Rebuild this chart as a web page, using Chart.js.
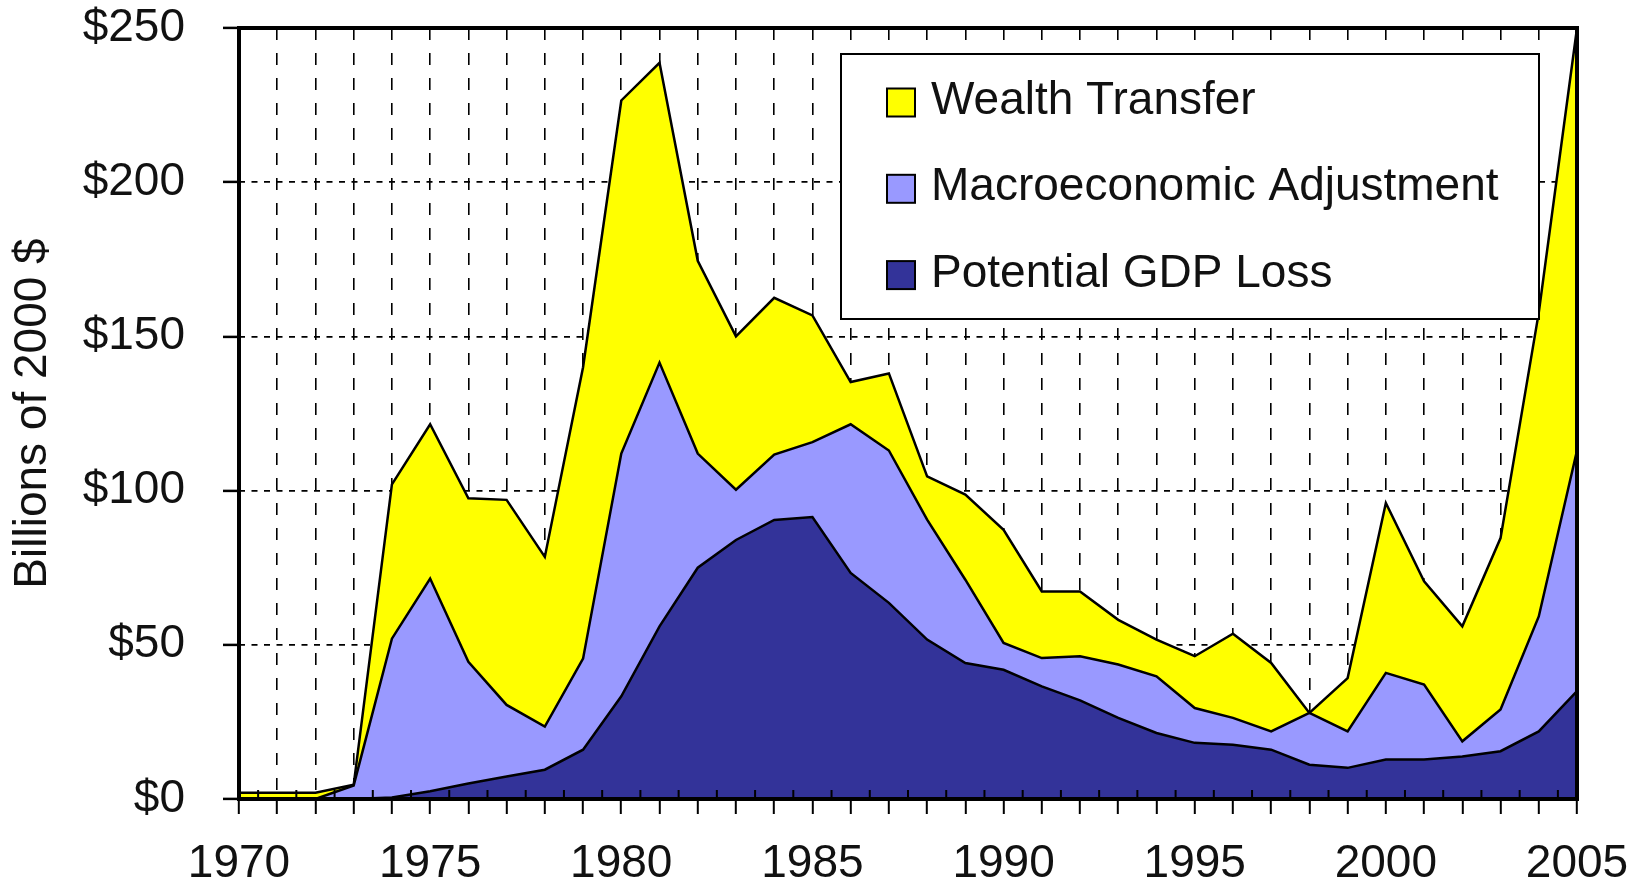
<!DOCTYPE html>
<html lang="en">
<head>
<meta charset="UTF-8">
<title>Costs of oil dependence</title>
<script src="https://cdn.jsdelivr.net/npm/chart.js@4"></script>
<style>
  html, body { margin: 0; padding: 0; background: #fff; }
  canvas { display: block; }
</style>
</head>
<body>
<canvas id="costChart" width="1643" height="886"></canvas>
<script>
const years = [1970, 1971, 1972, 1973, 1974, 1975, 1976, 1977, 1978, 1979,
               1980, 1981, 1982, 1983, 1984, 1985, 1986, 1987, 1988, 1989,
               1990, 1991, 1992, 1993, 1994, 1995, 1996, 1997, 1998, 1999,
               2000, 2001, 2002, 2003, 2004, 2005];
const labeledYears = [1970, 1975, 1980, 1985, 1990, 1995, 2000, 2005];

// billions of 2000 $
const potentialGdpLoss = [0, 0, 0, 0, 0.5, 2.5, 5, 7.3, 9.5, 16,
                          33.3, 56, 75, 84, 90.5, 91.4, 73.3, 63.6, 51.7, 44.1,
                          41.9, 36.5, 32, 26.3, 21.4, 18.2, 17.6, 16, 11.1, 10.1,
                          12.8, 12.8, 13.8, 15.5, 21.9, 35];
const macroAdjustment = [0, 0, 0, 4.4, 51.5, 69, 39.5, 23.2, 14, 29.5,
                         78.7, 85.5, 37, 16.3, 21.2, 24.3, 48.2, 49.4, 38.9, 27,
                         8.7, 9.2, 14.3, 17.3, 18.4, 11.3, 8.7, 5.9, 16.8, 11.8,
                         28.1, 24.3, 4.9, 13.5, 37.3, 78];
const wealthTransfer = [2, 2, 2, 0.2, 50, 50, 53, 66.5, 55, 94.5,
                        114.5, 97.2, 62.5, 49.7, 50.8, 41.1, 13.7, 25, 14, 27.6,
                        36.7, 21.6, 21, 14.5, 11.9, 16.8, 27.3, 22.2, 0, 17.3,
                        55.1, 33.5, 37.3, 55.6, 98.5, 137];

const FONT = '"Liberation Sans", Arial, sans-serif';
const TEXT = '#111';
Chart.defaults.font.family = FONT;
Chart.defaults.color = TEXT;

// frame round the plot + small inside ticks between the years
const framePlugin = {
  id: 'frame',
  afterDatasetsDraw(chart) {
    const { ctx, chartArea: a, scales: { x } } = chart;
    ctx.save();
    ctx.strokeStyle = '#000';
    ctx.lineWidth = 2;
    ctx.beginPath();
    for (let i = 0; i < years.length - 1; i++) {
      const px = x.getPixelForValue(i + 0.5);
      ctx.moveTo(px, a.bottom);
      ctx.lineTo(px, a.bottom - 9);
    }
    ctx.stroke();
    ctx.lineWidth = 4;
    ctx.strokeRect(a.left, a.top, a.width, a.height);
    ctx.restore();
  }
};

// boxed legend inside the plot, top right
const boxLegend = {
  id: 'boxLegend',
  afterDraw(chart) {
    const { ctx, chartArea: a } = chart;
    const w = 698, h = 265;
    const left = a.right - 38 - w, top = a.top + 26;
    ctx.save();
    ctx.fillStyle = '#fff';
    ctx.fillRect(left, top, w, h);
    ctx.lineWidth = 2;
    ctx.strokeStyle = '#000';
    ctx.strokeRect(left, top, w, h);
    ctx.font = '46px ' + FONT;
    ctx.textBaseline = 'middle';
    const items = chart.data.datasets.slice().reverse();
    items.forEach((d, k) => {
      const cy = top + 48.5 + k * 86.3;
      ctx.fillStyle = d.backgroundColor;
      ctx.fillRect(left + 46, cy - 14, 28, 28);
      ctx.strokeRect(left + 46, cy - 14, 28, 28);
      ctx.fillStyle = TEXT;
      ctx.fillText(d.label, left + 90, cy - 1);
    });
    ctx.restore();
  }
};

const ctx = document.getElementById('costChart').getContext('2d');
new Chart(ctx, {
  type: 'line',
  data: {
    labels: years.map(String),
    datasets: [
      { label: 'Potential GDP Loss', data: potentialGdpLoss, backgroundColor: '#333399', fill: 'origin' },
      { label: 'Macroeconomic Adjustment', data: macroAdjustment, backgroundColor: '#9999FF', fill: '-1' },
      { label: 'Wealth Transfer', data: wealthTransfer, backgroundColor: '#FFFF00', fill: '-1' }
    ]
  },
  options: {
    responsive: false,
    animation: false,
    layout: { padding: { top: 28, right: 66, left: 0, bottom: 0 } },
    elements: {
      line: { tension: 0, borderWidth: 2.5, borderColor: '#000' },
      point: { radius: 0 }
    },
    plugins: {
      legend: { display: false },
      tooltip: { enabled: false }
    },
    scales: {
      x: {
        type: 'category',
        offset: false,
        grid: { color: '#000', lineWidth: 1.6, tickLength: 15, tickWidth: 2, tickColor: '#000' },
        border: { display: false, dash: [12, 13] },
        ticks: {
          autoSkip: false,
          maxRotation: 0,
          minRotation: 0,
          padding: 23,
          color: TEXT,
          font: { size: 46 },
          callback: (v, i) => labeledYears.includes(years[i]) ? String(years[i]) : ''
        },
        afterFit: s => {
          s.height = 87;
          s.paddingLeft = 0;
          s.paddingRight = 0;
        }
      },
      y: {
        stacked: true,
        min: 0,
        max: 250,
        grid: { color: '#000', lineWidth: 1.8, tickLength: 16, tickWidth: 2.5, tickColor: '#000' },
        border: { display: false, dash: [6, 6.5] },
        ticks: {
          stepSize: 50,
          padding: 38,
          color: TEXT,
          font: { size: 46 },
          callback: v => '$' + v
        },
        title: {
          display: true,
          text: 'Billions of 2000 $',
          color: TEXT,
          font: { size: 46 },
          padding: { top: 6, bottom: 0 }
        },
        afterFit: s => {
          s.width = 239;
          s.paddingTop = 0;
          s.paddingBottom = 0;
        }
      }
    }
  },
  plugins: [framePlugin, boxLegend]
});
</script>
</body>
</html>
